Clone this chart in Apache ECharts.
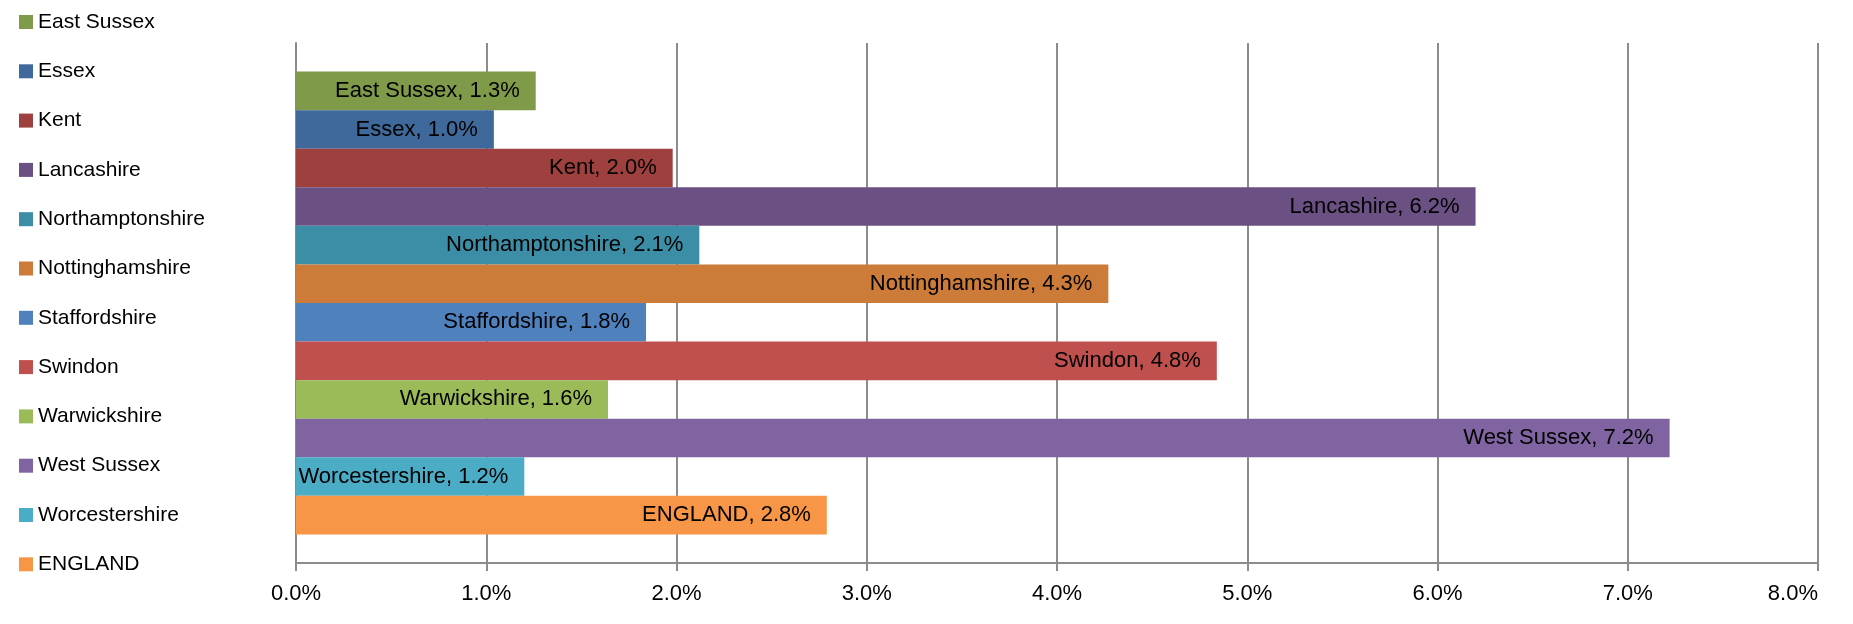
<!DOCTYPE html>
<html>
<head>
<meta charset="utf-8">
<title>Bar chart</title>
<script src="https://cdn.jsdelivr.net/npm/echarts@6/dist/echarts.min.js"></script>
<style>
  html, body { margin: 0; padding: 0; background: #fff; }
  #chart { width: 1853px; height: 624px; }
</style>
</head>
<body>
<div id="chart"></div>
<script>
// data (percent)
var regions = ["East Sussex", "Essex", "Kent", "Lancashire", "Northamptonshire",
  "Nottinghamshire", "Staffordshire", "Swindon", "Warwickshire", "West Sussex",
  "Worcestershire", "ENGLAND"];
var values = [1.26, 1.04, 1.98, 6.20, 2.12, 4.27, 1.84, 4.84, 1.64, 7.22, 1.20, 2.79];
var xMin = 0, xMax = 8, xStep = 1;

var palette = ["#7f9a48", "#3f699b", "#9e403e", "#6a5083", "#3b8ea5", "#cd7b38",
  "#4f81bd", "#c0504d", "#9bbb59", "#8064a2", "#4bacc6", "#f79646"];

var font = "Liberation Sans";
var chart = echarts.init(document.getElementById("chart"));

var series = regions.map(function (name, i) {
  return {
    name: name,
    type: "bar",
    data: [values[i]],
    barGap: "0%",
    barCategoryGap: "11%",
    itemStyle: { color: palette[i] },
    label: {
      show: true,
      position: "insideRight",
      distance: 16,
      color: "#000",
      fontFamily: font,
      fontSize: 22,
      formatter: function (p) { return name + ", " + p.value.toFixed(1) + "%"; }
    }
  };
});

chart.setOption({
  animation: false,
  color: palette,
  legend: {
    orient: "vertical",
    left: 14,
    top: 5,
    itemWidth: 14,
    itemHeight: 14,
    itemGap: 25.3,
    icon: "rect",
    selectedMode: false,
    textStyle: { fontFamily: font, fontSize: 21, lineHeight: 24, color: "#000" },
    data: regions
  },
  grid: { left: 296, right: 35, top: 43, bottom: 61, containLabel: false },
  xAxis: {
    type: "value",
    min: xMin,
    max: xMax,
    interval: xStep,
    axisLine: { show: true, lineStyle: { color: "#8c8c8c", width: 2 } },
    axisTick: { show: true, length: 8, lineStyle: { color: "#8c8c8c", width: 2 } },
    splitLine: { show: true, lineStyle: { color: "#8c8c8c", width: 2 } },
    axisLabel: {
      fontFamily: font, fontSize: 22, color: "#000", margin: 20,
      alignMaxLabel: "right",
      formatter: function (v) { return v.toFixed(1) + "%"; }
    }
  },
  yAxis: {
    type: "category",
    data: [""],
    inverse: true,
    axisLine: { show: true, lineStyle: { color: "#8c8c8c", width: 2 } },
    axisTick: { show: false },
    axisLabel: { show: false }
  },
  series: series
});
</script>
</body>
</html>
